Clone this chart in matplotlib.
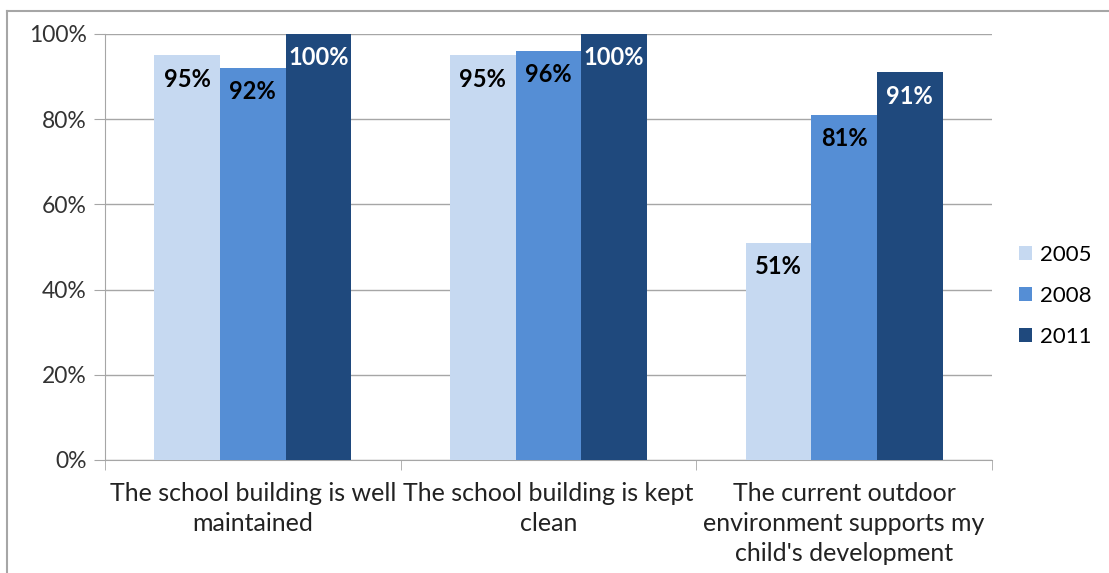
import numpy as np
import matplotlib
matplotlib.use('Agg')
import matplotlib.pyplot as plt
from matplotlib.lines import Line2D

categories = ["The school building is well\nmaintained",
              "The school building is kept\nclean",
              "The current outdoor\nenvironment supports my\nchild's development"]
years = ["2005", "2008", "2011"]
values = {
    "2005": [95, 95, 51],
    "2008": [92, 96, 81],
    "2011": [100, 100, 91],
}
colors = {"2005": "#C6D9F1", "2008": "#558ED5", "2011": "#1F497D"}
label_colors = {"2005": "black", "2008": "black", "2011": "white"}

plt.rcParams['font.family'] = ['Lato', 'DejaVu Sans']

fig = plt.figure(figsize=(11.09, 5.73), dpi=100)
ax = fig.add_axes([105 / 1109, 1 - 460 / 573, (992 - 105) / 1109, (460 - 34) / 573])

# outer chart border (only top and left visible in the crop)
fig.add_artist(Line2D([7 / 1109, 1], [1 - 10.5 / 573] * 2, transform=fig.transFigure,
                      color='#A6A6A6', linewidth=1.5))
fig.add_artist(Line2D([7 / 1109] * 2, [0, 1 - 10.5 / 573], transform=fig.transFigure,
                      color='#A6A6A6', linewidth=1.5))

x = np.arange(len(categories))
w = 0.222
for i, yr in enumerate(years):
    xs = x + (i - 1) * w
    ax.bar(xs, values[yr], width=w, color=colors[yr], label=yr, zorder=3)
    for xi, v in zip(xs, values[yr]):
        ax.text(xi, v - 5.6, f"{v}%", ha='center', va='center', fontsize=17,
                fontweight='bold', color=label_colors[yr], zorder=4)

ax.set_xlim(-0.5, 2.5)
ax.set_ylim(0, 100)
ax.set_yticks(np.arange(0, 101, 20))
ax.set_yticklabels([f"{t}%" for t in range(0, 101, 20)], fontsize=16.5, color='#333333')
ax.set_xticks(x)
ax.set_xticklabels(categories, fontsize=18, color='#222222', linespacing=1.35)
ax.tick_params(axis='x', length=0, pad=16)
ax.set_xticks([-0.5, 0.5, 1.5, 2.5], minor=True)
ax.tick_params(axis='x', which='minor', length=7, color='#A6A6A6', direction='out')
ax.tick_params(axis='y', length=8, color='#A6A6A6', pad=5)
ax.yaxis.grid(True, color='#A6A6A6', linewidth=1.0, zorder=0)
ax.set_axisbelow(True)
for s in ['top', 'right']:
    ax.spines[s].set_visible(False)
ax.spines['left'].set_color('#A6A6A6')
ax.spines['bottom'].set_color('#A6A6A6')

ax.legend(loc='center left', bbox_to_anchor=(1.03, 0.385), frameon=False, fontsize=16,
          handlelength=0.6, handleheight=0.6, labelspacing=0.95, handletextpad=0.35,
          borderaxespad=0, borderpad=0)

fig.savefig('out.png', dpi=100)
